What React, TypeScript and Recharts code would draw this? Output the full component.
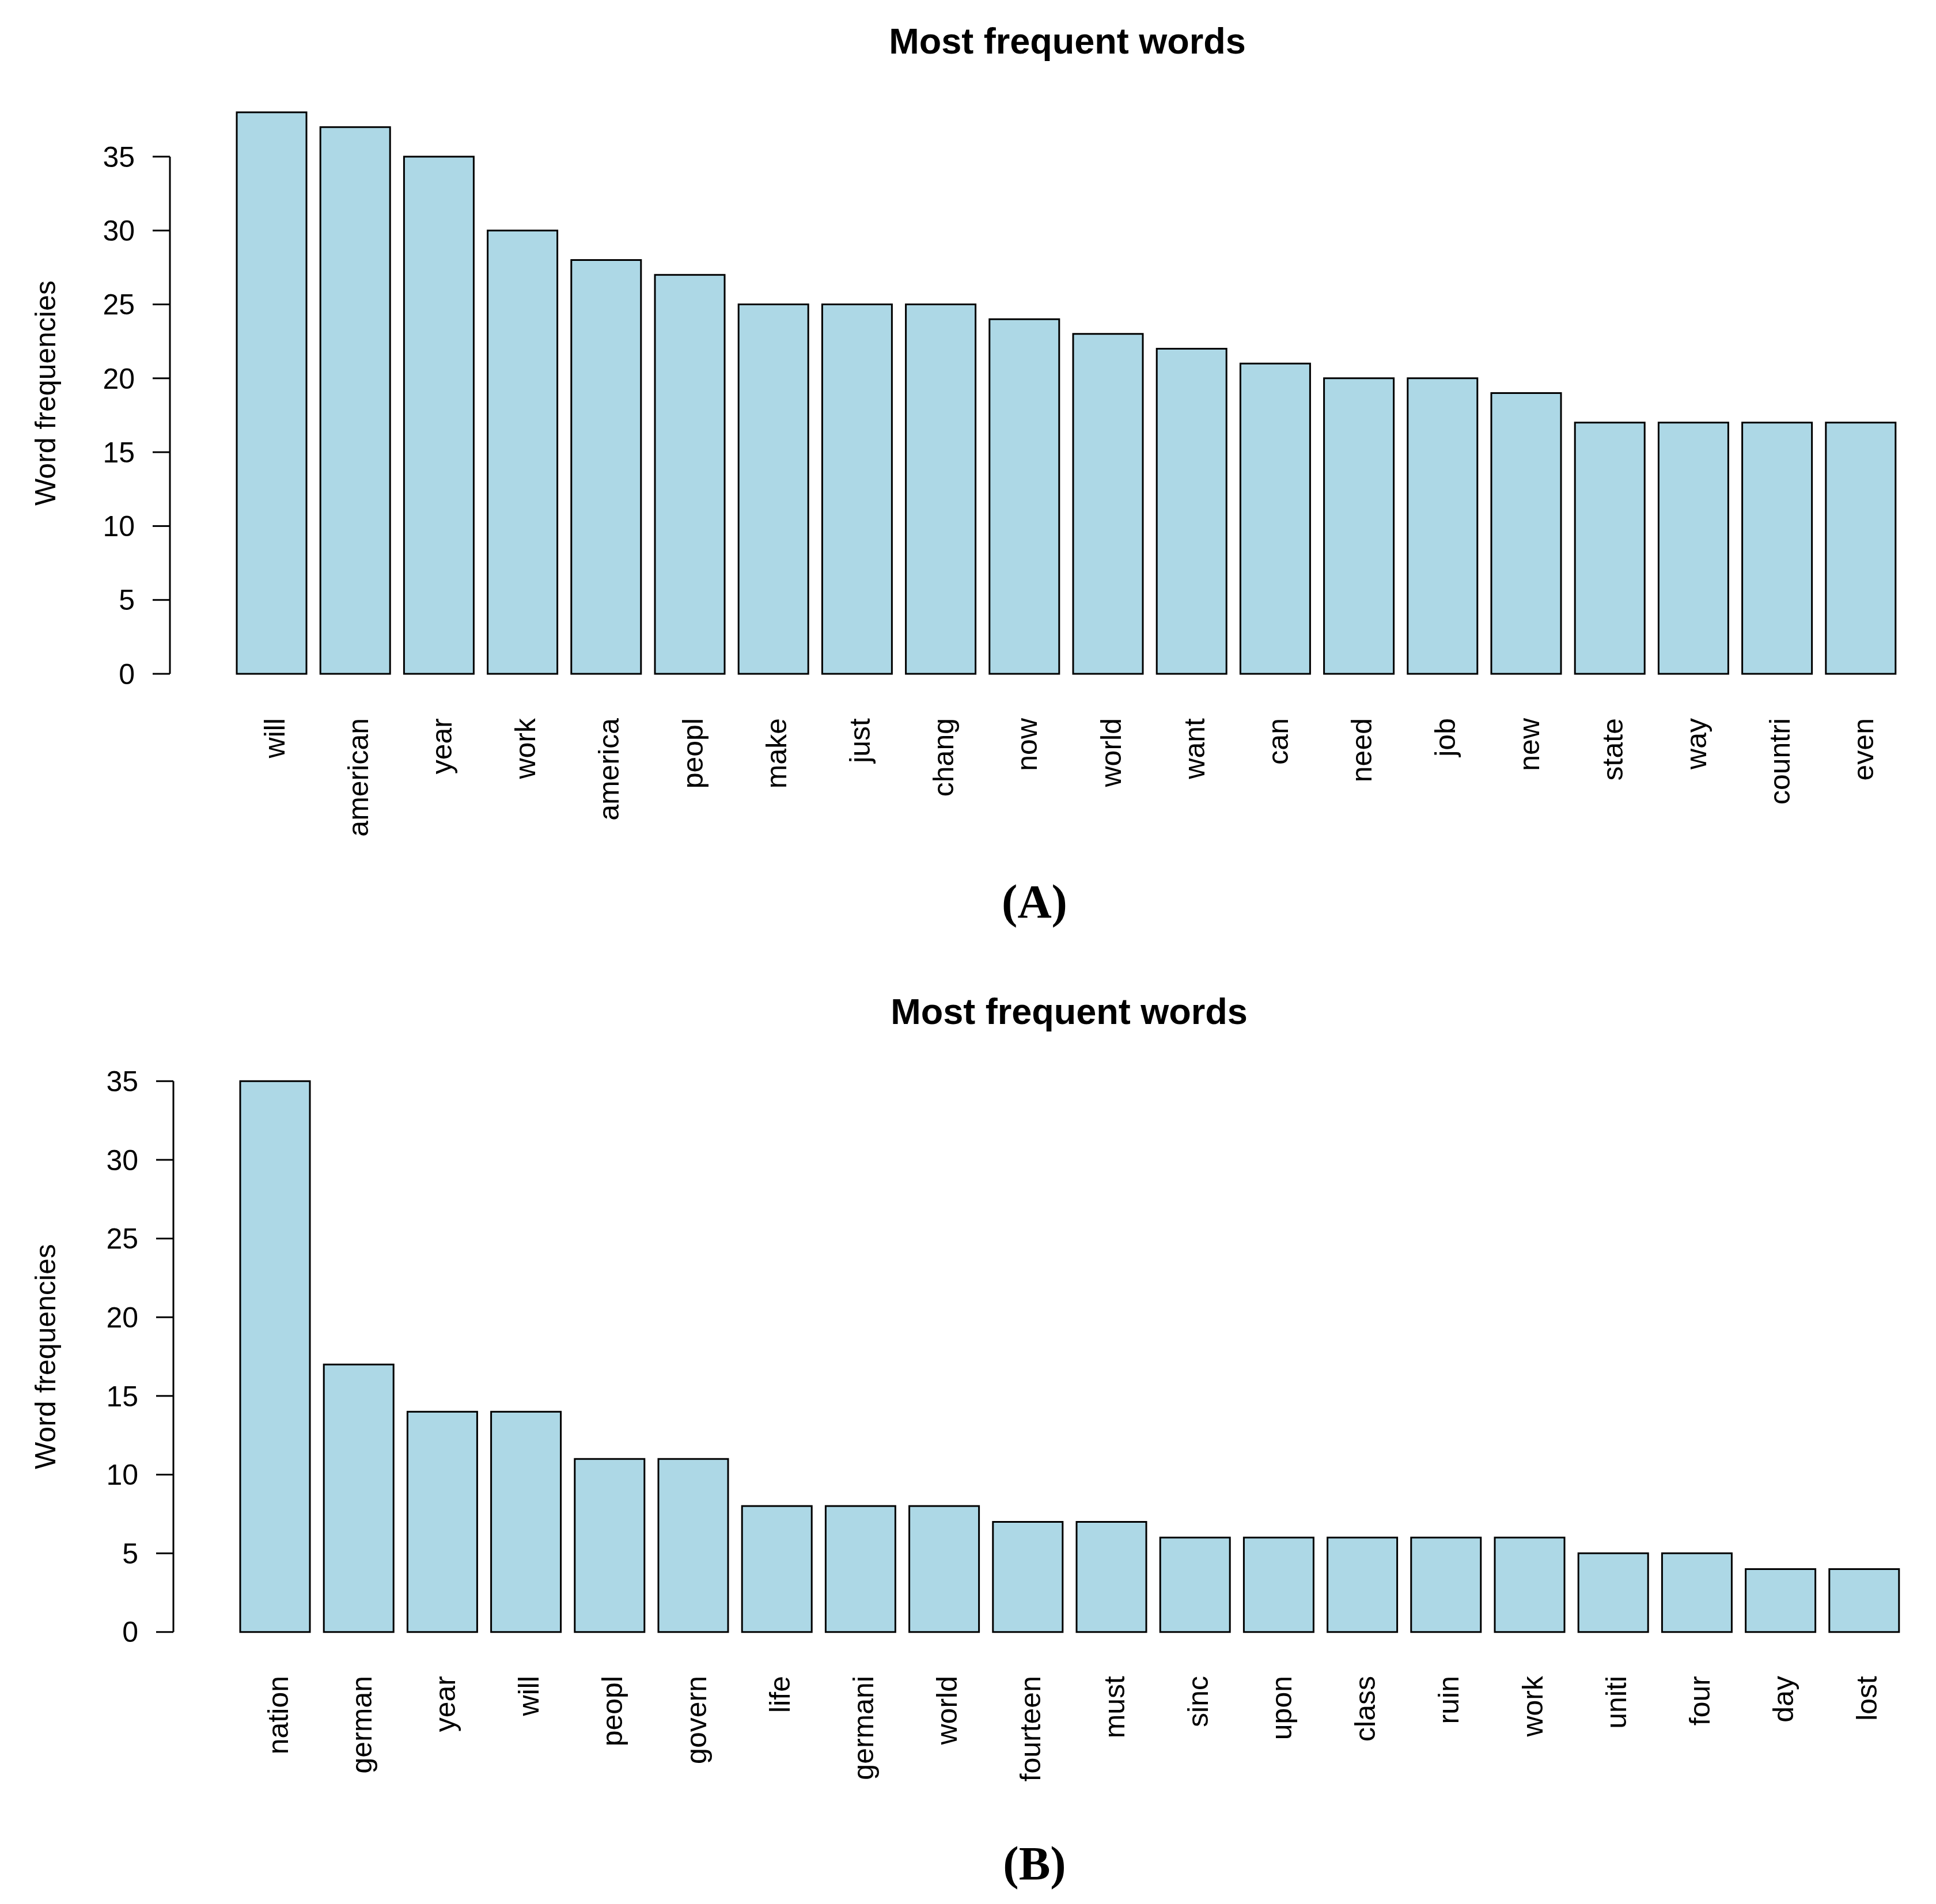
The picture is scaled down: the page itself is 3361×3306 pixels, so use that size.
import React from "react";
import { Bar, BarChart, ReferenceLine, XAxis, YAxis } from "recharts";

const wordsA = [
  "will", "american", "year", "work", "america", "peopl", "make", "just", "chang", "now",
  "world", "want", "can", "need", "job", "new", "state", "way", "countri", "even",
];
const freqA = [38, 37, 35, 30, 28, 27, 25, 25, 25, 24, 23, 22, 21, 20, 20, 19, 17, 17, 17, 17];

const wordsB = [
  "nation", "german", "year", "will", "peopl", "govern", "life", "germani", "world", "fourteen",
  "must", "sinc", "upon", "class", "ruin", "work", "uniti", "four", "day", "lost",
];
const freqB = [35, 17, 14, 14, 11, 11, 8, 8, 8, 7, 7, 6, 6, 6, 6, 6, 5, 5, 4, 4];

const yTicks = [0, 5, 10, 15, 20, 25, 30, 35];

const SANS = "'Liberation Sans', Arial, sans-serif";
const SERIF = "'Liberation Serif', 'Times New Roman', Times, serif";

function WordTick({ x, y, payload }: any) {
  return (
    <g transform={`translate(${x},${y})`}>
      <text
        transform="rotate(-90)"
        textAnchor="end"
        dy="0.44em"
        fontSize={50}
        fill="#000"
        fontFamily={SANS}
      >
        {payload.value}
      </text>
    </g>
  );
}

function FreqChart({
  words,
  freqs,
  top,
  axisLeft,
  plotHeight,
}: {
  words: string[];
  freqs: number[];
  top: number;
  axisLeft: number;
  plotHeight: number;
}) {
  const data = words.map((word, i) => ({ word, freq: freqs[i] }));
  const max = Math.max(...freqs);
  // R style 4% range extension on both ends
  const domain = [-max * 0.04, max * 1.04];
  const marginTop = 156;
  const xAxisHeight = 250;
  const plotWidth = 3136;

  return (
    <div style={{ position: "absolute", left: 0, top }}>
      <BarChart
        width={axisLeft + plotWidth}
        height={marginTop + plotHeight + xAxisHeight}
        data={data}
        margin={{ top: marginTop, right: 0, bottom: 0, left: 0 }}
      >
        <XAxis
          dataKey="word"
          interval={0}
          axisLine={false}
          tickLine={false}
          tickSize={0}
          tickMargin={38}
          height={xAxisHeight}
          padding={{ left: 104, right: 128 }}
          tick={<WordTick />}
        />
        <XAxis xAxisId="frame" type="number" domain={[0, 1]} hide />
        <YAxis
          width={axisLeft}
          domain={domain}
          ticks={yTicks}
          interval={0}
          axisLine={false}
          tickSize={30}
          tickMargin={31}
          tickLine={{ stroke: "#000", strokeWidth: 3 }}
          tick={{ fontSize: 50, fill: "#000", fontFamily: SANS }}
          label={{
            value: "Word frequencies",
            angle: -90,
            position: "insideLeft",
            offset: 78,
            textAnchor: "middle",
            fontSize: 50,
            fill: "#000",
            fontFamily: SANS,
            style: { textAnchor: "middle" },
          }}
        />
        <ReferenceLine
          xAxisId="frame"
          segment={[
            { x: 0, y: 0 },
            { x: 0, y: 35 },
          ]}
          stroke="#000"
          strokeWidth={3}
          ifOverflow="visible"
        />
        <Bar
          dataKey="freq"
          fill="#ADD8E6"
          stroke="#000"
          strokeWidth={3}
          barSize={121}
          isAnimationActive={false}
        />
      </BarChart>
    </div>
  );
}

export default function App() {
  return (
    <div
      style={{
        position: "absolute",
        left: 0,
        top: 0,
        width: 3361,
        height: 3306,
        overflow: "hidden",
        background: "#fff",
      }}
    >
      <FreqChart words={wordsA} freqs={freqA} top={0} axisLeft={295} plotHeight={1053} />
      <FreqChart words={wordsB} freqs={freqB} top={1683} axisLeft={301} plotHeight={1033} />
      <svg
        width={3361}
        height={3306}
        style={{ position: "absolute", left: 0, top: 0, pointerEvents: "none" }}
      >
        <text x={1853} y={93} textAnchor="middle" fontSize={63} fontWeight="bold" fontFamily={SANS}>
          Most frequent words
        </text>
        <text x={1796} y={1593} textAnchor="middle" fontSize={82} fontWeight="bold" fontFamily={SERIF}>
          (A)
        </text>
        <text x={1856} y={1778} textAnchor="middle" fontSize={63} fontWeight="bold" fontFamily={SANS}>
          Most frequent words
        </text>
        <text x={1796} y={3263} textAnchor="middle" fontSize={82} fontWeight="bold" fontFamily={SERIF}>
          (B)
        </text>
      </svg>
    </div>
  );
}
